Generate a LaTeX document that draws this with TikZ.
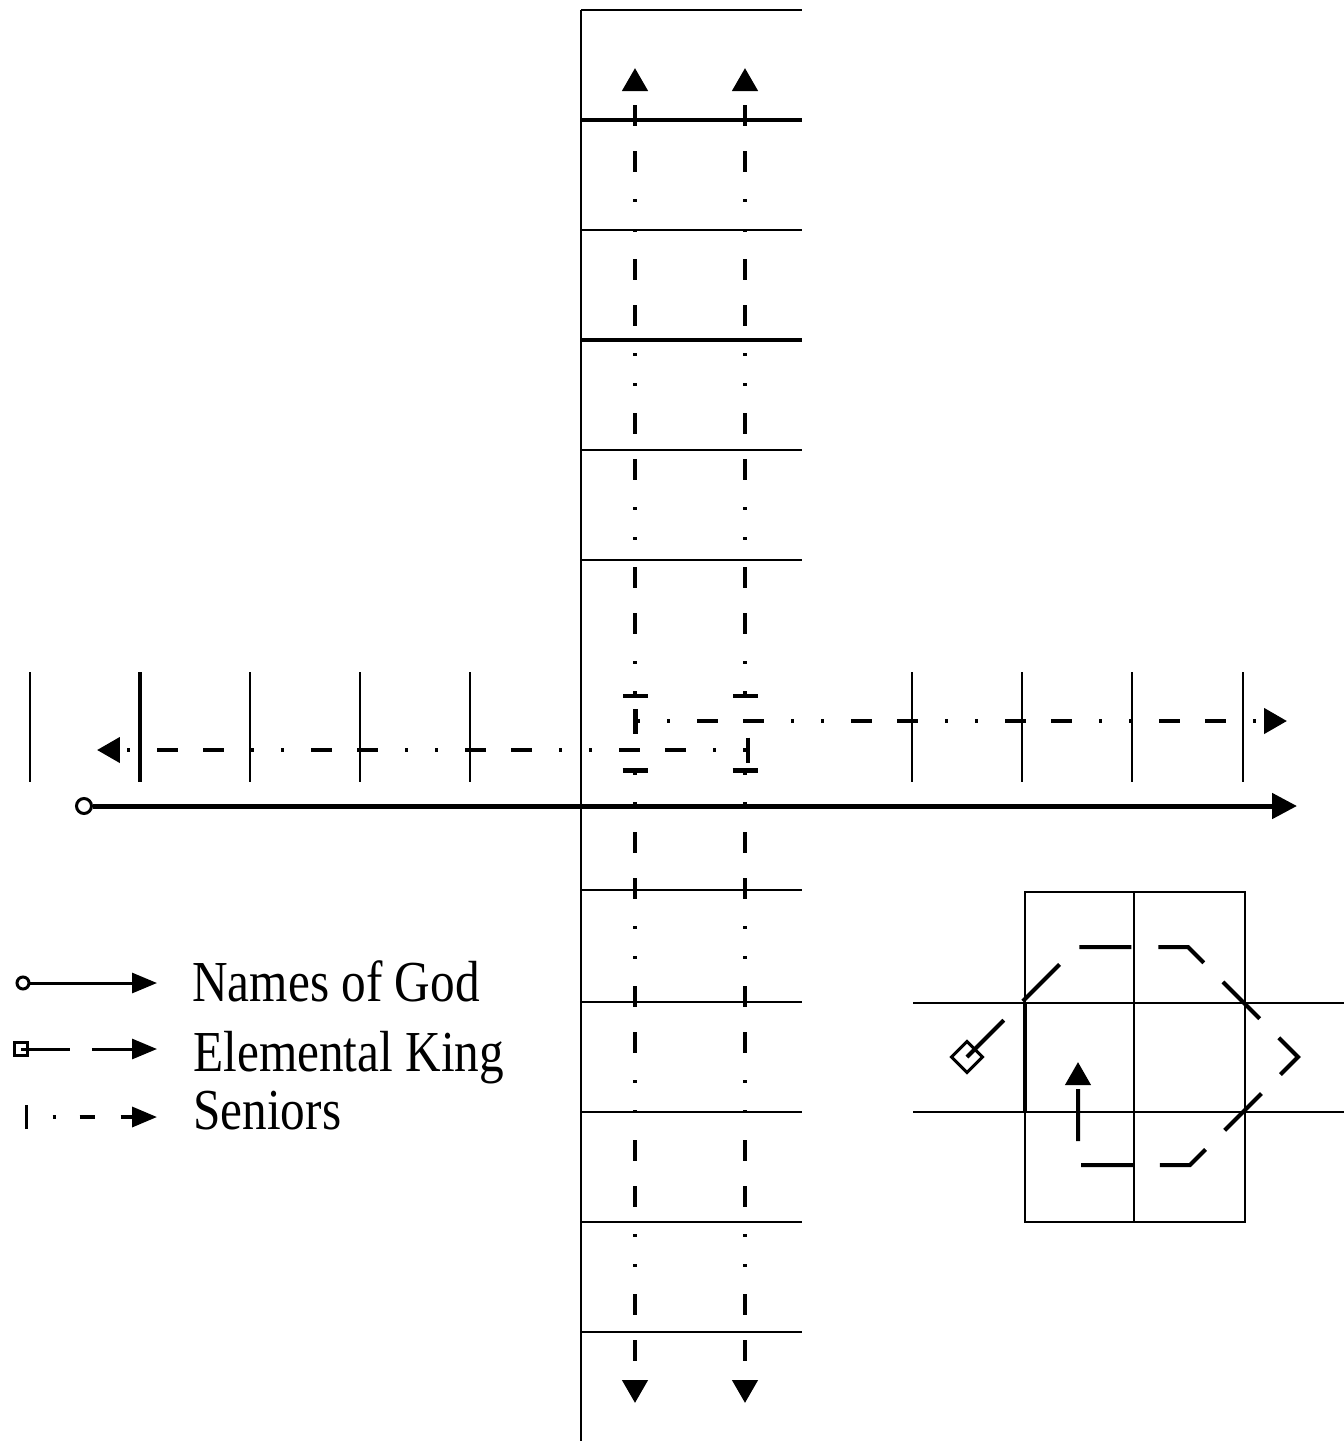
\documentclass[tikz,border=0pt]{standalone}
\usepackage{fontspec}
\setmainfont{Liberation Serif}
\usetikzlibrary{arrows.meta}
\begin{document}
\begin{tikzpicture}[x=0.02cm,y=-0.02cm,
  gridline/.style={line width=0.04cm},
  gridthick/.style={line width=0.075cm},
  seniors/.style={line width=0.09cm,
    dash pattern=on 0.06cm off 0.54cm on 0.42cm off 0.5cm on 0.42cm off 0.54cm on 0.06cm off 0.54cm,
    dash phase=2.46cm,
    arrows={Bar[width=0.5cm]-Triangle[length=0.46cm,width=0.5cm]}},
  ekline/.style={line width=0.08cm, dash pattern=on 1.04cm off 0.54cm, line join=miter,
    arrows={-Triangle[length=0.46cm,width=0.5cm]}},
  names/.style={line width=0.1cm, arrows={-Triangle[length=0.5cm,width=0.5cm]}},
  legtext/.style={anchor=base west, inner sep=0pt, font=\fontsize{33}{38}\selectfont}
]
\useasboundingbox (0,0) rectangle (1344,1441);

% ---- vertical column ----
\draw[gridline] (581,10) -- (581,1441);
\foreach \y in {10,230,450,560,890,1002,1112,1222,1332}
  \draw[gridline] (581,\y) -- (802,\y);
\foreach \y in {120,340}
  \draw[gridthick] (581,\y) -- (802,\y);

% ---- horizontal row ----
\foreach \x in {30,250,360,470,912,1022,1132,1243}
  \draw[gridline] (\x,672) -- (\x,782);
\draw[gridthick] (140,672) -- (140,782);

% ---- small grid ----
\draw[gridline] (1025,892) rectangle (1245,1222);
\draw[gridline] (1134,892) -- (1134,1222);
\draw[gridline] (913,1003) -- (1344,1003);
\draw[gridline] (913,1112) -- (1344,1112);
\draw[gridthick] (1025,1003) -- (1025,1112);

% ---- Seniors ----
\coordinate (u1s) at (635,698); \coordinate (u1e) at (635,68);
\coordinate (u2s) at (745,698); \coordinate (u2e) at (745,68);
\coordinate (d1s) at (635,768); \coordinate (d1e) at (635,1403);
\coordinate (d2s) at (745,768); \coordinate (d2e) at (745,1403);
\coordinate (rs) at (633,721); \coordinate (re) at (1287,721);
\coordinate (ls) at (750,750); \coordinate (le) at (97,750);
\draw[seniors] (u1s) -- (u1e);
\draw[seniors] (u2s) -- (u2e);
\draw[seniors] (d1s) -- (d1e);
\draw[seniors] (d2s) -- (d2e);
\draw[seniors] (rs) -- (re);
\draw[seniors] (ls) -- (le);

% ---- Names of God ----
\node[circle, draw, line width=0.06cm, inner sep=0pt, minimum size=0.3cm, fill=white] (ngs) at (84,806) {};
\coordinate (nge) at (1297,806);
\draw[names] (ngs) -- (nge);

% ---- Elemental King ----
\node[draw, rotate=45, line width=0.06cm, inner sep=0pt, minimum size=0.44cm] (eks) at (967,1057) {};
\coordinate (ek1) at (1077,947);
\coordinate (ek2) at (1188,947);
\coordinate (ek3) at (1298,1057);
\coordinate (ek4) at (1190,1165);
\coordinate (ek5) at (1078,1165);
\coordinate (eke) at (1078,1062);
\draw[ekline] (eks.center) -- (ek1) -- (ek2) -- (ek3) -- (ek4) -- (ek5) -- (eke);

% ---- legend ----
\node[circle, draw, line width=0.06cm, inner sep=0pt, minimum size=0.24cm] (lgn) at (23,983) {};
\coordinate (lgne) at (157,983);
\draw[line width=0.06cm, arrows={-Triangle[length=0.5cm,width=0.4cm]}] (lgn) -- (lgne);

\node[draw, line width=0.05cm, inner sep=0pt, minimum size=0.26cm] (lgk) at (21,1049) {};
\coordinate (lgke) at (157,1049);
\draw[line width=0.06cm, dash pattern=on 0.98cm off 0.44cm, arrows={-Triangle[length=0.5cm,width=0.4cm]}] (lgk.center) -- (lgke);

\coordinate (lgss) at (25,1117);
\coordinate (lgse) at (157,1117);
\draw[line width=0.07cm, dash pattern=on 0.06cm off 0.48cm on 0.3cm off 0.52cm on 0.4cm off 0.5cm, dash phase=1.76cm,
  arrows={Bar[width=0.48cm]-Triangle[length=0.5cm,width=0.4cm]}] (lgss) -- (lgse);

\node[legtext] (t1) at (192,1001) {\scalebox{0.85}[1]{Names of God}};
\node[legtext] (t2) at (193,1071) {\scalebox{0.85}[1]{Elemental King}};
\node[legtext] (t3) at (193,1129) {\scalebox{0.85}[1]{Seniors}};
\end{tikzpicture}
\end{document}
